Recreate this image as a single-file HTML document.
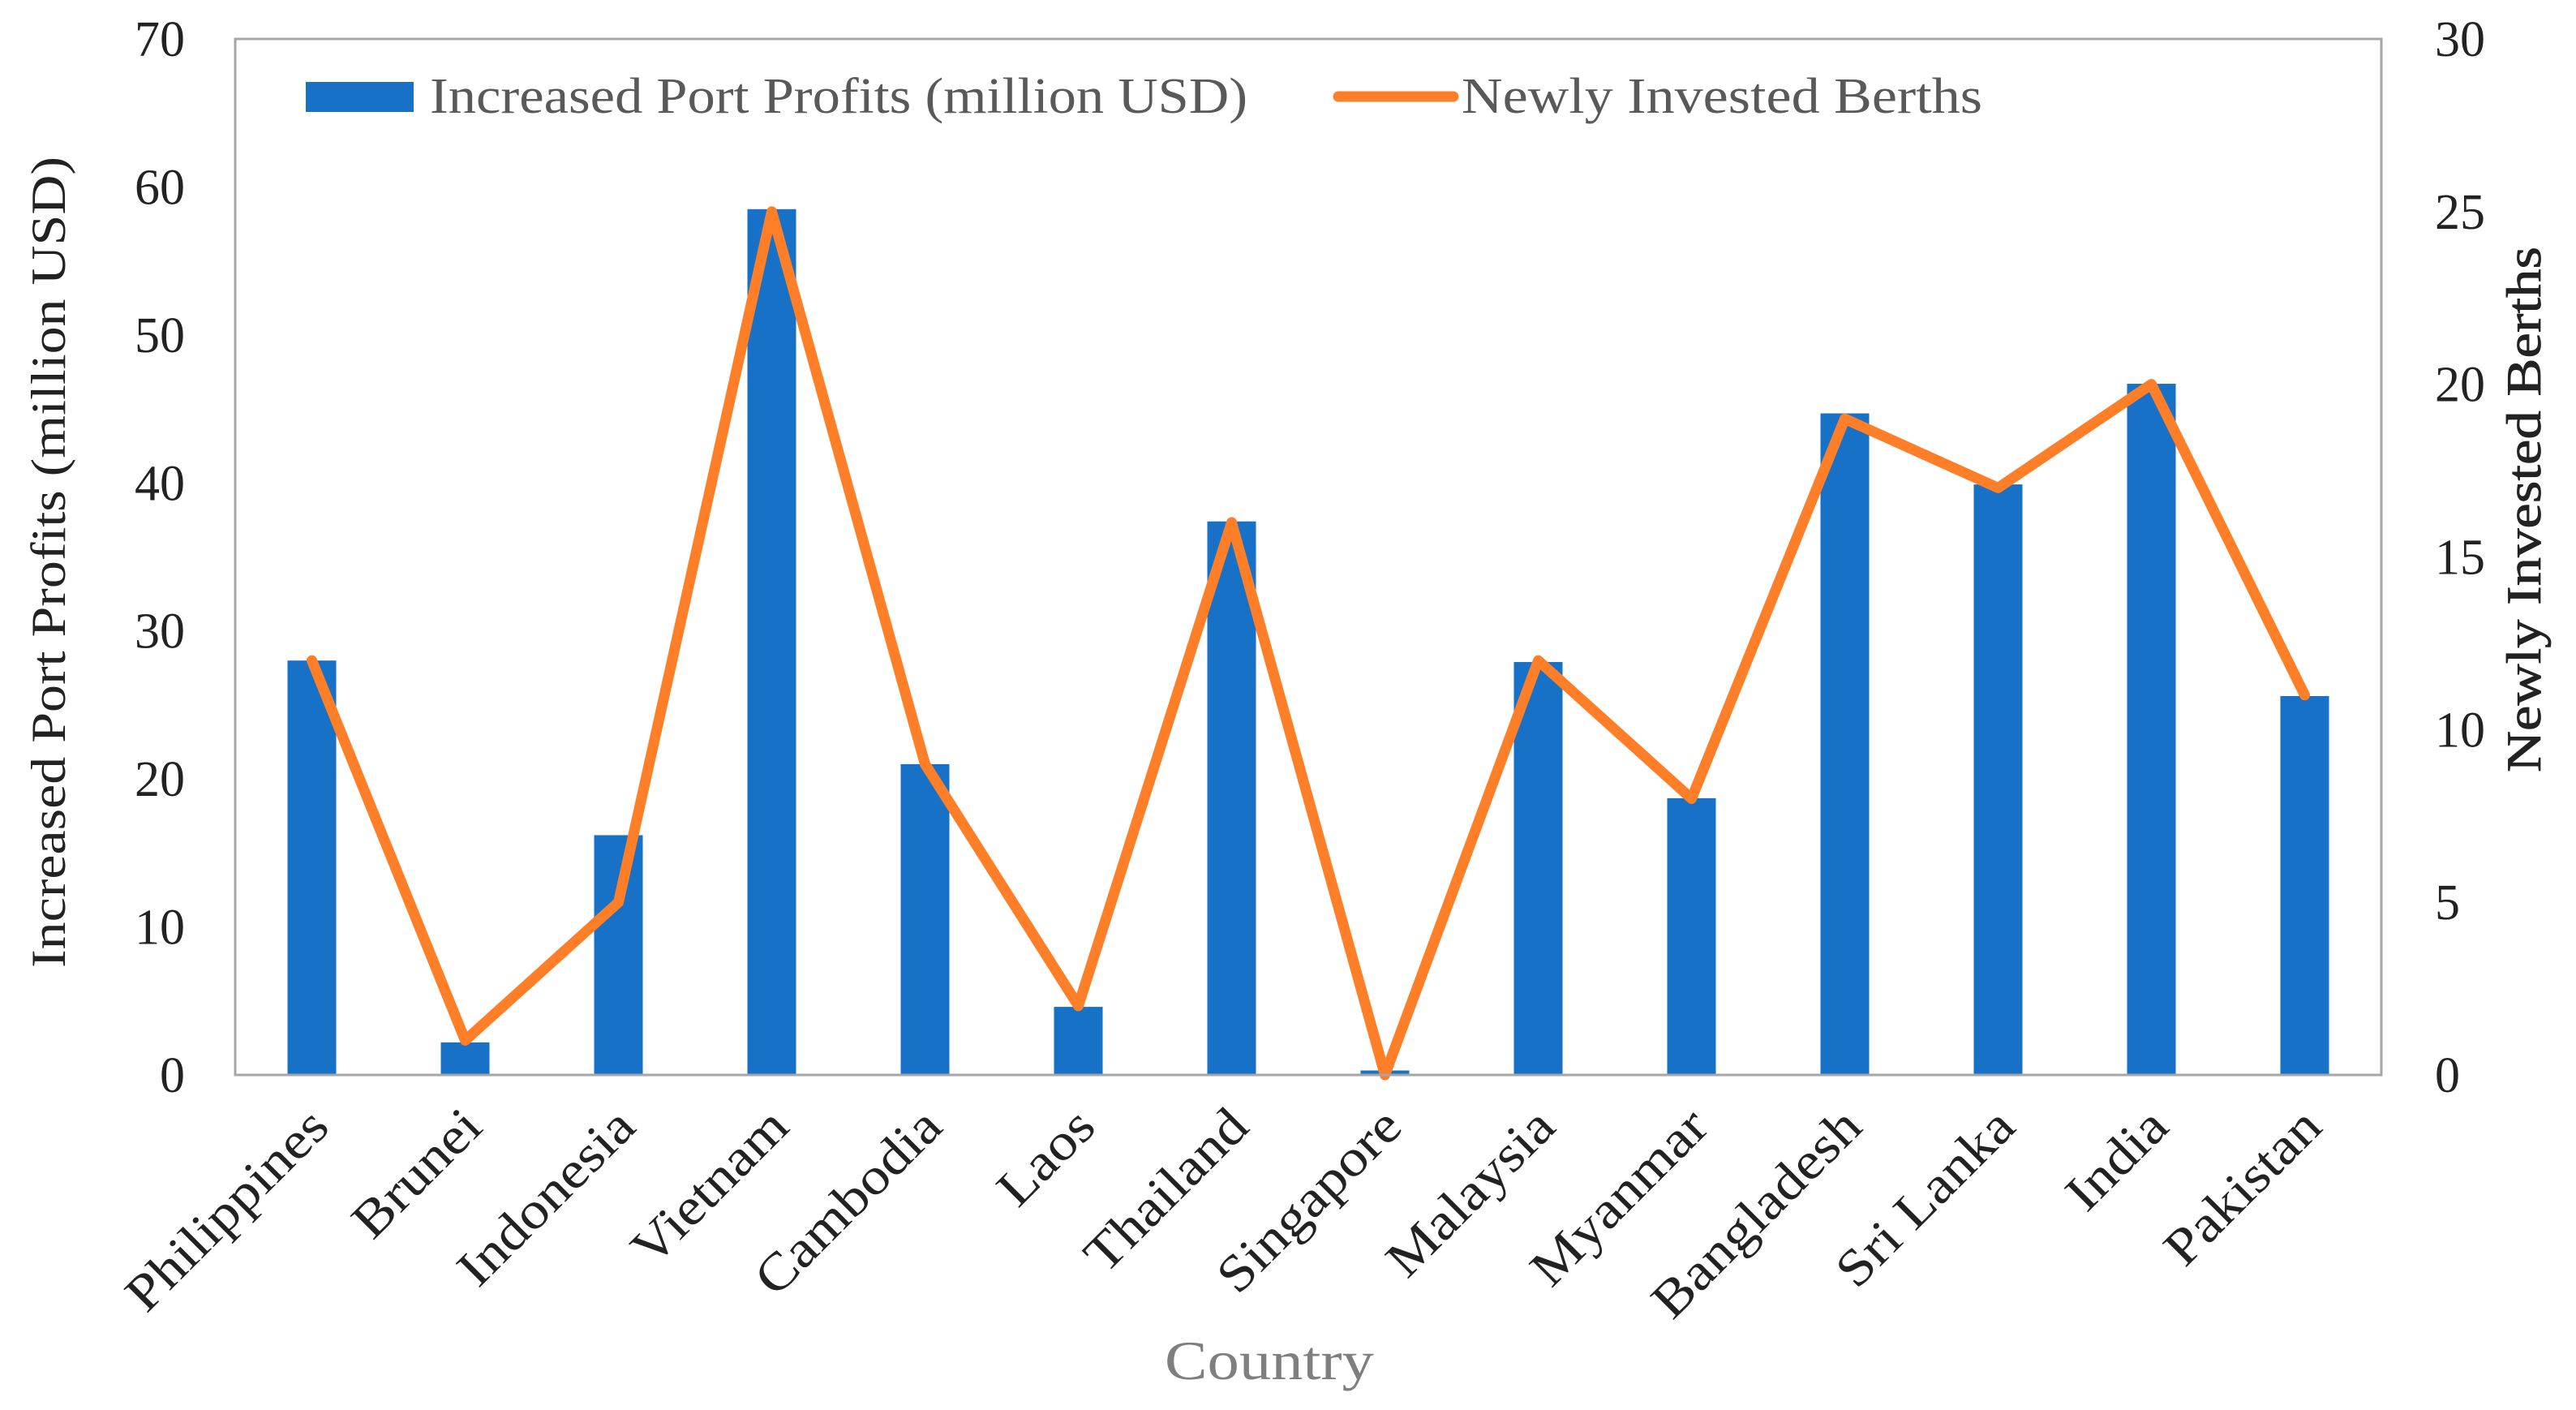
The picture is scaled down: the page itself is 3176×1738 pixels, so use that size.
<!DOCTYPE html>
<html><head><meta charset="utf-8"><style>
html,body{margin:0;padding:0;background:#fff}
svg{display:block;font-family:"Liberation Serif",serif}
</style></head><body>
<svg id="chart" width="3176" height="1738" viewBox="0 0 3176 1738" xmlns="http://www.w3.org/2000/svg">
<rect x="0" y="0" width="3176" height="1738" fill="#fff"/>
<g id="bars"></g>
<g id="lines"></g>
<rect x="290" y="48" width="2646" height="1277" fill="none" stroke="#a6a6a6" stroke-width="3"/>
<g id="ticks"></g>
<g id="xlabels"></g>
<text x="0" y="0" transform="translate(80,693) rotate(-90)" text-anchor="middle" font-size="60" textLength="1000" lengthAdjust="spacingAndGlyphs" fill="#222">Increased Port Profits (million USD)</text>
<text x="0" y="0" transform="translate(3132,628) rotate(-90)" text-anchor="middle" font-size="60" textLength="648" lengthAdjust="spacingAndGlyphs" fill="#222" stroke="#222" stroke-width="0.8">Newly Invested Berths</text>
<text x="1565" y="1700" text-anchor="middle" font-size="68" textLength="258" lengthAdjust="spacingAndGlyphs" fill="#7f7f7f">Country</text>
<g>
<rect x="377" y="101" width="133" height="37" fill="#1771c7"/>
<text x="530" y="139" font-size="62" textLength="1008" lengthAdjust="spacingAndGlyphs" fill="#595959">Increased Port Profits (million USD)</text>
<line x1="1650" y1="119" x2="1792" y2="119" stroke="#fe7f27" stroke-width="13" stroke-linecap="round"/>
<text x="1802" y="139" font-size="62" textLength="642" lengthAdjust="spacingAndGlyphs" fill="#595959">Newly Invested Berths</text>
</g>
</svg>
<script>
const categories=["Philippines","Brunei","Indonesia","Vietnam","Cambodia","Laos","Thailand","Singapore","Malaysia","Myanmar","Bangladesh","Sri Lanka","India","Pakistan"];
const profits=[28,2.2,16.2,58.5,21,4.6,37.4,0.3,27.9,18.7,44.7,39.9,46.7,25.6];
const berths=[12,1,5,25,9,2,16,0,12,8,19,17,20,11];
const leftTicks=[0,10,20,30,40,50,60,70];
const rightTicks=[0,5,10,15,20,25,30];
const NS="http://www.w3.org/2000/svg";
const X0=290,X1=2936,Y0=1325,Y1=48;
const band=(X1-X0)/categories.length;
function xC(i){return X0+band*(i+0.5);}
function yL(v){return Y0-(v/70)*(Y0-Y1);}
function yR(v){return Y0-(v/30)*(Y0-Y1);}
function mk(tag,attrs,parent){const e=document.createElementNS(NS,tag);for(const k in attrs)e.setAttribute(k,attrs[k]);parent.appendChild(e);return e;}
const bars=document.getElementById('bars'),lines=document.getElementById('lines'),ticks=document.getElementById('ticks'),xl=document.getElementById('xlabels');
const bw=60;
profits.forEach((v,i)=>{
  const r=mk('rect',{x:xC(i)-bw/2,y:yL(v),width:bw,height:Y0-yL(v),fill:'#1771c7'},bars);
  
  
});
const pts=berths.map((v,i)=>xC(i)+','+yR(v)).join(' ');
const pl=mk('polyline',{points:pts,fill:'none',stroke:'#fe7f27','stroke-width':13,'stroke-linejoin':'round','stroke-linecap':'round'},lines);


leftTicks.forEach(v=>{
  const t=mk('text',{x:228,y:yL(v)+21,'text-anchor':'end','font-size':62,fill:'#222'},ticks);
  t.textContent=v;
  
  
});
rightTicks.forEach(v=>{
  const t=mk('text',{x:3002,y:yR(v)+21,'text-anchor':'start','font-size':62,fill:'#222'},ticks);
  t.textContent=v;
  
  
});
categories.forEach((c,i)=>{
  const x=xC(i)+24,y=1392;
  const t=mk('text',{x:0,y:0,transform:'translate('+x+','+y+') rotate(-45)','text-anchor':'end','font-size':64,fill:'#222'},xl);
  t.textContent=c;
  
  
  const L=t.getComputedTextLength();
  t.setAttribute('textLength',L*1.12);
  t.setAttribute('lengthAdjust','spacingAndGlyphs');
});
</script>
</body></html>
